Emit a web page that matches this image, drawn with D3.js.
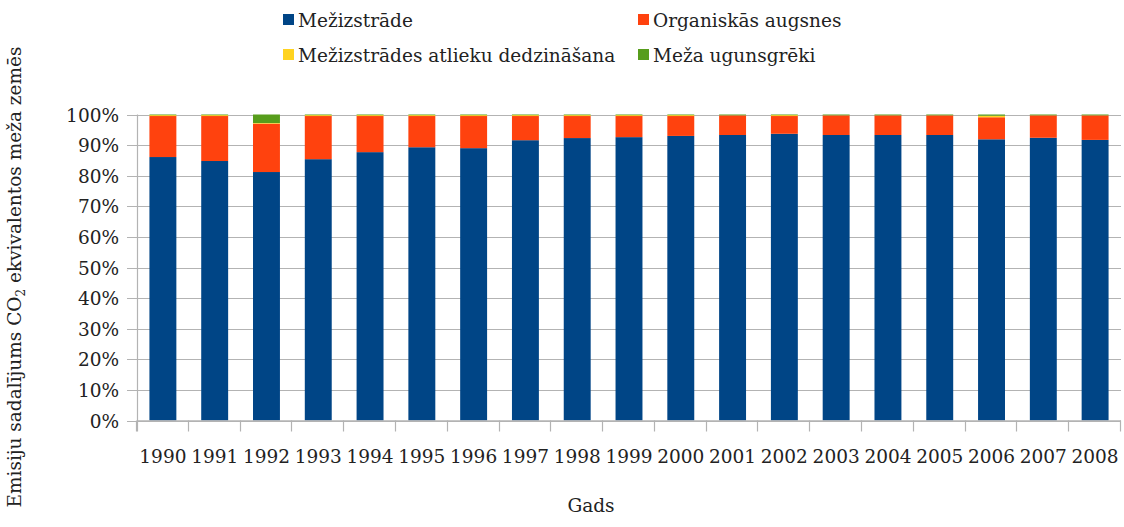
<!DOCTYPE html>
<html>
<head>
<meta charset="utf-8">
<script src="https://cdn.jsdelivr.net/npm/d3@7"></script>
<style>
  body { margin: 0; background: #fff; }
  svg text { font-family: "DejaVu Serif", serif; fill: #222; }
</style>
</head>
<body>
<svg id="chart" width="1124" height="527"></svg>
<script>
// gadi
var gadi = ["1990","1991","1992","1993","1994","1995","1996","1997","1998","1999",
            "2000","2001","2002","2003","2004","2005","2006","2007","2008"];

// procenti no kopējā (nolasīti no attēla)
var mezizstrade = [86.1,84.8,81.2,85.4,87.7,89.3,89.0,91.6,92.3,92.6,93.0,93.3,93.7,93.3,93.3,93.3,91.9,92.4,91.7];
var organiskas  = [13.4,14.7,15.8,14.1,11.8,10.2,10.5,7.9,7.2,6.9,6.5,6.4,5.8,6.4,6.4,6.4,7.2,7.3,8.0];
var atlieku     = [0.3,0.3,0.2,0.3,0.3,0.3,0.3,0.3,0.3,0.3,0.3,0.05,0.3,0.05,0.05,0.05,0.5,0.05,0.05];
var ugunsgreki  = [0.2,0.2,2.8,0.2,0.2,0.2,0.2,0.2,0.2,0.2,0.2,0.25,0.2,0.25,0.25,0.25,0.4,0.25,0.25];

var serijas = ["Mežizstrāde","Organiskās augsnes","Mežizstrādes atlieku dedzināšana","Meža ugunsgrēki"];
var krasas = ["#004586","#ff420e","#ffd320","#579d1c"];
var yTicks = [0,10,20,30,40,50,60,70,80,90,100];

var svg = d3.select("#chart");
var pLeft = 137, pRight = 1121, pTop = 114.5, pBottom = 420.5;
var fs = "18.5px";

// tabula stack funkcijai
var tabula = gadi.map(function(g, i){
  var s = mezizstrade[i] + organiskas[i] + atlieku[i] + ugunsgreki[i];
  return { gads: g, a: mezizstrade[i]/s, b: organiskas[i]/s, c: atlieku[i]/s, d: ugunsgreki[i]/s };
});
var stack = d3.stack().keys(["a","b","c","d"])(tabula);

var x = d3.scaleBand().domain(gadi).range([pLeft, pRight]).paddingInner(0.48).paddingOuter(0.24);
var y = d3.scaleLinear().domain([0, 1]).range([pBottom, pTop]);

// režģis
svg.append("g").selectAll("line")
  .data(yTicks)
  .enter().append("line")
    .attr("x1", pLeft - 10).attr("x2", pRight)
    .attr("y1", function(d){ return Math.round(y(d/100)) + 0.5; })
    .attr("y2", function(d){ return Math.round(y(d/100)) + 0.5; })
    .attr("stroke", "#b3b3b3").attr("stroke-width", 1.2);

// y ass līnija
svg.append("line")
  .attr("x1", pLeft + 0.5).attr("x2", pLeft + 0.5)
  .attr("y1", pTop).attr("y2", pBottom + 11)
  .attr("stroke", "#b3b3b3").attr("stroke-width", 1.2);

// stabiņi
svg.append("g").selectAll("g")
  .data(stack)
  .enter().append("g")
    .attr("fill", function(d, i){ return krasas[i]; })
  .selectAll("rect")
  .data(function(d){ return d; })
  .enter().append("rect")
    .attr("x", function(d){ return x(d.data.gads); })
    .attr("width", x.bandwidth())
    .attr("y", function(d){ return y(d[1]); })
    .attr("height", function(d){ return y(d[0]) - y(d[1]); });

// x ass
svg.append("line")
  .attr("x1", pLeft).attr("x2", pRight)
  .attr("y1", pBottom + 0.5).attr("y2", pBottom + 0.5)
  .attr("stroke", "#b3b3b3").attr("stroke-width", 1.5);

svg.append("g").selectAll("line")
  .data(d3.range(gadi.length + 1))
  .enter().append("line")
    .attr("x1", function(i){ return Math.round(pLeft + i * (pRight - pLeft) / gadi.length) - 0.5; })
    .attr("x2", function(i){ return Math.round(pLeft + i * (pRight - pLeft) / gadi.length) - 0.5; })
    .attr("y1", pBottom).attr("y2", pBottom + 11)
    .attr("stroke", "#b3b3b3").attr("stroke-width", 1.2);

svg.append("g").selectAll("text")
  .data(gadi)
  .enter().append("text")
    .attr("x", function(d){ return x(d) + x.bandwidth()/2; })
    .attr("y", 463)
    .attr("text-anchor", "middle")
    .style("font-size", fs)
    .text(function(d){ return d; });

// y ass teksti
svg.append("g").selectAll("text")
  .data(yTicks)
  .enter().append("text")
    .attr("x", 119)
    .attr("y", function(d){ return y(d/100) + 7; })
    .attr("text-anchor", "end")
    .style("font-size", fs)
    .text(function(d){ return d + "%"; });

// asu nosaukumi
svg.append("text")
  .attr("x", 591).attr("y", 512)
  .attr("text-anchor", "middle")
  .style("font-size", fs)
  .text("Gads");

var yl = svg.append("text")
  .attr("transform", "translate(21,277) rotate(-90)")
  .attr("text-anchor", "middle")
  .style("font-size", fs);
yl.append("tspan").text("Emisiju sadalījums CO");
yl.append("tspan").attr("dy", 4).style("font-size", "12px").text("2");
yl.append("tspan").attr("dy", -4).text(" ekvivalentos meža zemēs");

// leģenda
var legPos = [[283, 20], [638, 20], [283, 55], [638, 55]];
var leg = svg.append("g").selectAll("g")
  .data(serijas)
  .enter().append("g")
    .attr("transform", function(d, i){ return "translate(" + legPos[i][0] + "," + legPos[i][1] + ")"; });
leg.append("rect")
  .attr("x", 0).attr("y", -6).attr("width", 11).attr("height", 11)
  .attr("fill", function(d, i){ return krasas[i]; });
leg.append("text")
  .attr("x", 15).attr("y", 7)
  .style("font-size", fs)
  .text(function(d){ return d; });
</script>
</body>
</html>
